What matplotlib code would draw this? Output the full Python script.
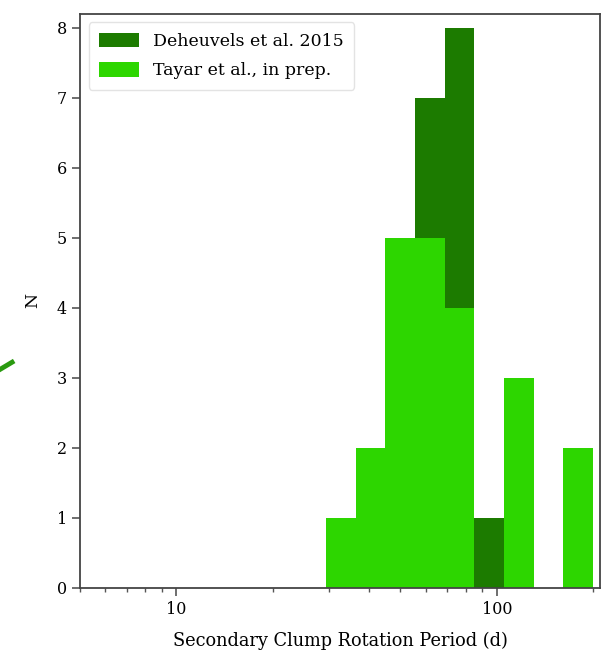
#!/usr/bin/env python3
# -*- coding: utf-8 -*-
""" Secondary clump rotation period histogram """

import numpy as np
import matplotlib
matplotlib.use("Agg")
import matplotlib.pyplot as plt
from matplotlib.lines import Line2D
from matplotlib.ticker import LogLocator, ScalarFormatter, NullFormatter


""" DATA """

# log-spaced bin edges (d)
bin_edges = [29.3, 36.3, 44.9, 55.5, 68.7, 85.0, 105.2, 130.2, 161.2, 199.5]

# counts per bin
deheuvels_counts = [0, 0, 0, 7, 8, 1, 0, 0, 0]
tayar_counts = [1, 2, 5, 5, 4, 0, 3, 0, 2]

labels = ["Deheuvels et al. 2015", "Tayar et al., in prep."]
colors = ["#1c7b00", "#2dd600"]


""" PLOT """

plt.rcParams['font.family'] = ['DejaVu Serif']

fig = plt.figure(figsize=(6.04, 6.55), dpi=100)
ax = fig.add_axes([0.1325, 0.1023, 0.861, 0.8767])

edges = np.array(bin_edges)
centres = np.sqrt(edges[:-1] * edges[1:])

ax.hist(centres, bins=edges, weights=deheuvels_counts, color=colors[0], label=labels[0])
ax.hist(centres, bins=edges, weights=tayar_counts, color=colors[1], label=labels[1])

ax.set_xscale('log')
ax.set_xlim(5, 210)
ax.set_ylim(0, 8.2)
ax.set_yticks(range(0, 9))

ax.xaxis.set_major_locator(LogLocator(base=10))
ax.xaxis.set_major_formatter(ScalarFormatter())
ax.xaxis.set_minor_formatter(NullFormatter())

ax.set_xlabel("Secondary Clump Rotation Period (d)", fontsize=12.8, labelpad=10)
ax.set_ylabel("N", fontsize=12.5, labelpad=11)

for s in ax.spines.values():
    s.set_color('#444444')
    s.set_linewidth(1.3)
ax.tick_params(axis='both', which='major', labelsize=11.5, length=6, width=1.2, color='#555555')
ax.tick_params(axis='x', which='minor', length=3, width=1.0, color='#555555')

leg = ax.legend(loc='upper left', prop={'size': 12.5}, handlelength=2.3, handleheight=0.9,
                borderpad=0.6, labelspacing=0.7, framealpha=0.8, edgecolor='#dddddd')

# bit of an arrow coming in from the left
fig.add_artist(Line2D([0.0, 0.02], [0.436, 0.447], color='#2a9a10', lw=3.5,
                      transform=fig.transFigure))

fig.savefig("out.png", dpi=100)
